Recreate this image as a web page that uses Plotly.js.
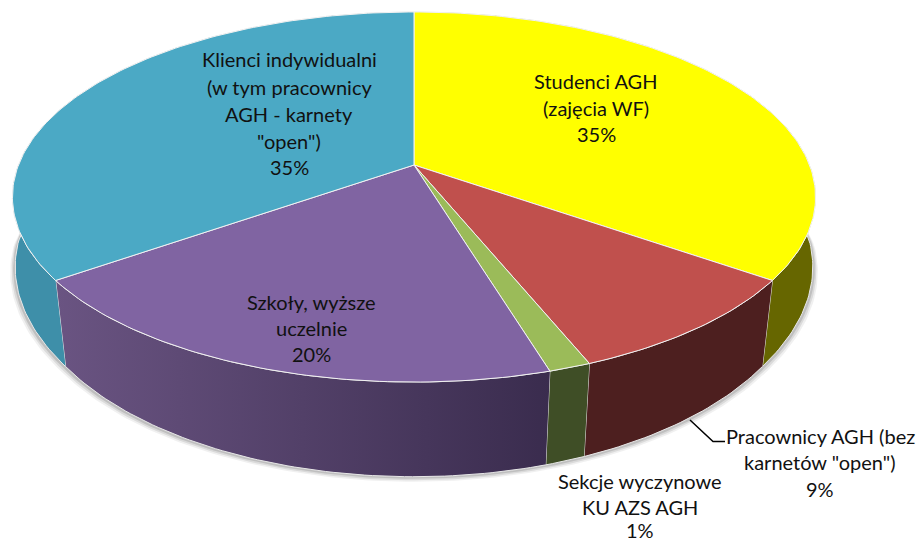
<!DOCTYPE html>
<html>
<head>
<meta charset="utf-8">
<script src="https://cdn.plot.ly/plotly-3.0.1.min.js"></script>
<style>html,body{margin:0;padding:0;background:#fff}#chart{width:918px;height:542px}</style>
</head>
<body>
<div id="chart"></div>
<script>
// Udział grup klientów — 3D pie, Plotly has none so slices are filled scatter polygons

// ── Data ──────────────────────────────────────────────────────────────────
const categories = ['Studenci AGH (zajęcia WF)', 'Pracownicy AGH (bez karnetów "open")',
  'Sekcje wyczynowe KU AZS AGH', 'Szkoły, wyższe uczelnie', 'Klienci indywidualni'];
const shares = [35, 9.15, 1.45, 19.9, 35];
const shareLabels = ['35%', '9%', '1%', '20%', '35%'];

// ── Style ─────────────────────────────────────────────────────────────────
const topColors  = ['#FFFF00', '#C0504D', '#9BBB59', '#8064A2', '#4BA9C5'];
const wallColors = ['#666600', '#4D1F1F', '#3F4E26', '#5A4670', '#3E8FA9'];

// label lines per slice (canvas position of each line)
const labelLines = [
  [['Studenci AGH', 596, 81], ['(zajęcia WF)', 596, 108], [shareLabels[0], 596, 134]],
  [['Pracownicy AGH (bez', 820, 436], ['karnetów "open")', 820, 462], [shareLabels[1], 820, 489]],
  [['Sekcje wyczynowe', 640, 481], ['KU AZS AGH', 640, 507], [shareLabels[2], 640, 530]],
  [['Szkoły, wyższe', 311, 302], ['uczelnie', 311, 328], [shareLabels[3], 311, 354]],
  [['Klienci indywidualni', 289, 59], ['(w tym pracownicy', 289, 87], ['AGH - karnety', 289, 114], ['"open")', 289, 141], [shareLabels[4], 289, 167]]
];

// ── Perspective of the disc ───────────────────────────────────────────────
const CX = 414, CY = 165, RX = 395.5, RY = 179.5, K = 0.173;
const DEPTH = 75.8, SHRINK_X = 0.026, SHRINK_Y = -0.008;

function topPoint(deg) {
  const t = deg * Math.PI / 180, u = Math.sin(t), v = Math.cos(t), w = 1 + K * v;
  return [CX + RX * u / w, CY - RY * v / w];
}
function bottomPoint(deg) {
  const t = deg * Math.PI / 180, u = Math.sin(t), v = Math.cos(t), w = 1 + K * v;
  // the base only pulls in towards the viewer, the sides stay flush with the top
  const sx = SHRINK_X * Math.min(1, Math.max(0, -v / 0.586));
  return [CX + RX * u / (w + sx), CY + (DEPTH - RY * v) / (w + SHRINK_Y)];
}
function arc(fn, from, to) {
  const n = Math.max(2, Math.ceil(Math.abs(to - from)));
  const pts = [];
  for (let i = 0; i <= n; i++) pts.push(fn(from + (to - from) * i / n));
  return pts;
}
const poly = (pts, extra) => Object.assign({
  x: pts.map(p => p[0]), y: pts.map(p => p[1]),
  type: 'scatter', mode: 'lines', fill: 'toself',
  hoverinfo: 'skip', showlegend: false
}, extra);

const total = shares.reduce((a, b) => a + b, 0);
let acc = 0;
const spans = shares.map(s => {
  const from = acc / total * 360;
  acc += s;
  return [from, acc / total * 360];
});

// ── Traces: shadow, walls, top face ───────────────────────────────────────
const traces = [];

[[5, 0.06], [3.5, 0.09], [2, 0.12]].forEach(([grow, alpha]) => {
  const pts = arc(bottomPoint, 0, 360).map(p => [
    p[0] + (p[0] - CX) / RX * grow, p[1] + grow
  ]);
  traces.push(poly(pts, { line: { width: 0 }, fillcolor: `rgba(0,0,0,${alpha})` }));
});

spans.forEach((sp, i) => {
  const pts = arc(topPoint, sp[0], sp[1]).concat(arc(bottomPoint, sp[1], sp[0]));
  const extra = { line: { color: '#E8E8E8', width: 1 }, fillcolor: wallColors[i] };
  if (i === 3) {
    extra.fillgradient = { type: 'horizontal', colorscale: [[0, '#6A5482'], [1, '#3A2C4E']] };
  }
  traces.push(poly(pts, extra));
});

spans.forEach((sp, i) => {
  const pts = [[CX, CY]].concat(arc(topPoint, sp[0], sp[1]), [[CX, CY]]);
  traces.push(poly(pts, { line: { color: '#F2F2F2', width: 1 }, fillcolor: topColors[i] }));
});

// leader line to the Pracownicy label
traces.push({
  x: [690, 713, 725], y: [420, 441.5, 441.5],
  type: 'scatter', mode: 'lines',
  line: { color: '#000000', width: 1.5 },
  hoverinfo: 'skip', showlegend: false
});

const annotations = labelLines.flat().map(([text, x, y]) => ({
  x, y, xref: 'x', yref: 'y', text,
  showarrow: false, xanchor: 'center', yanchor: 'middle',
  font: { family: 'Lato, sans-serif', size: 20, color: '#111111' }
}));

const layout = {
  width: 918, height: 542,
  margin: { t: 0, b: 0, l: 0, r: 0 },
  paper_bgcolor: '#FFFFFF', plot_bgcolor: '#FFFFFF',
  xaxis: { range: [0, 918], visible: false, fixedrange: true },
  yaxis: { range: [542, 0], visible: false, fixedrange: true },
  annotations
};

Plotly.newPlot('chart', traces, layout, { displayModeBar: false, staticPlot: true });
</script>
</body>
</html>
